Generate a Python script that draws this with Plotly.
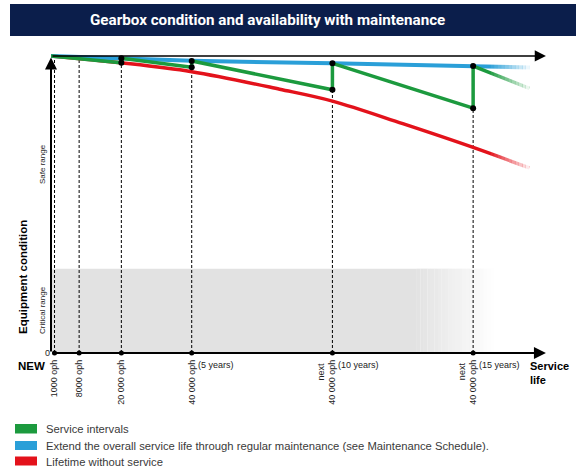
import numpy as np
import plotly.graph_objects as go

# ---------------- data (x in thousand operating hours, y = condition %) -------------
tick_x = [1, 8, 20, 40, 80, 120]
tick_text = ["1000 oph", "8000 oph", "20 000 oph", "40 000 oph", "40 000 oph", "40 000 oph"]
tick_prefix = ["", "", "", "", "next", "next"]
tick_years = ["", "", "", "(5 years)", "(10 years)", "(15 years)"]

blue_x = [0, 20, 40, 80, 120, 136]
blue_y = [100, 99.2, 98.4, 97.5, 96.6, 96.1]

red_x = [0, 20, 40, 65, 80, 100, 120, 136]
red_y = [100, 97.7, 94.7, 88.8, 84.8, 77.2, 69.2, 62.3]

service_x = [20, 40, 80, 120]
green_worn = [97.7, 96.2, 88.6, 82.4]       # condition just before service
green_restored = [99.2, 98.3, 97.5, 96.6]   # condition after service
green_start = 100
green_end_x, green_end_y = 136, 89.1

dash_top = [99.9, 99.1, 97.7, 96.2, 88.6, 82.4]   # dashed guide heights
critical_top = 28.4

legend_labels = ["Service intervals",
                 "Extend the overall service life through regular maintenance (see Maintenance Schedule).",
                 "Lifetime without service"]

GREEN, BLUE, RED = "#1c9a3e", "#2a9fd8", "#e3121b"
NAVY = "#0b1e4b"
FONT = "Liberation Sans, Arial, sans-serif"
TITLE_FONT = "Roboto, Liberation Sans, sans-serif"

# ---------------- layout geometry ----------------
W, H = 576, 470
L, R, T, B = 51, 29, 50, 117
PW, PH = W - L - R, H - T - B
XMAX, YMAX = 141, 102


def px(x):
    return (x - L) / PW


def py(y):
    return 1 - (y - T) / PH


fig = go.Figure()

# green sawtooth
gx, gy = [0], [green_start]
for sx, w_, r_ in zip(service_x, green_worn, green_restored):
    gx += [sx, sx]
    gy += [w_, r_]
gx.append(green_end_x)
gy.append(green_end_y)

# dashed guides
dx, dy = [], []
for x, t in zip(tick_x, dash_top):
    dx += [x, x, None]
    dy += [0, t, None]
fig.add_trace(go.Scatter(x=dx, y=dy, mode="lines",
                         line=dict(color="black", width=1, dash="3px,2px"),
                         hoverinfo="skip", showlegend=False))

fig.add_trace(go.Scatter(x=red_x, y=red_y, mode="lines", line_shape="spline",
                         line=dict(color=RED, width=3.5), showlegend=False))
fig.add_trace(go.Scatter(x=blue_x, y=blue_y, mode="lines",
                         line=dict(color=BLUE, width=4), showlegend=False))
fig.add_trace(go.Scatter(x=gx, y=gy, mode="lines",
                         line=dict(color=GREEN, width=3.5), showlegend=False))

# service dots
fig.add_trace(go.Scatter(x=service_x + service_x, y=green_worn + green_restored,
                         mode="markers", marker=dict(color="black", size=6),
                         cliponaxis=False, showlegend=False))
# tick dots on axis
fig.add_trace(go.Scatter(x=tick_x, y=[0] * len(tick_x), mode="markers",
                         marker=dict(color="black", size=5),
                         cliponaxis=False, showlegend=False))

shapes = []
# critical range (grey with fade to the right)
fade0, fade1 = 104, 126
shapes.append(dict(type="rect", xref="x", yref="y", x0=0.3, x1=fade0, y0=0, y1=critical_top,
                   fillcolor="#e2e2e2", line_width=0, layer="below"))
n = 22
for i in range(n):
    a = fade0 + (fade1 - fade0) * i / n
    b = fade0 + (fade1 - fade0) * (i + 1) / n
    shapes.append(dict(type="rect", xref="x", yref="y", x0=a, x1=b, y0=0, y1=critical_top,
                       fillcolor="#e2e2e2", opacity=1 - (i + 0.5) / n, line_width=0,
                       layer="below"))
# white fade over curve ends
c0, c1 = 125, 137
n = 12
for i in range(n):
    a = c0 + (c1 - c0) * i / n
    b = c0 + (c1 - c0) * (i + 1) / n
    shapes.append(dict(type="rect", xref="x", yref="y", x0=a, x1=b, y0=50, y1=98.9,
                       fillcolor="white", opacity=min(1, (i + 1) / n), line_width=0,
                       layer="above"))
# title bar
shapes.append(dict(type="rect", xref="paper", yref="paper", x0=px(10), x1=px(577),
                   y0=py(36), y1=py(4), fillcolor=NAVY, line_width=0))
# legend squares
leg_rows = [(424, 433.5, GREEN), (441, 450, BLUE), (456.5, 465.5, RED)]
for y0, y1, c in leg_rows:
    shapes.append(dict(type="rect", xref="paper", yref="paper", x0=px(15), x1=px(37),
                       y0=py(y1), y1=py(y0), fillcolor=c, line_width=0))

ann = []
# axes arrows
ann.append(dict(x=XMAX - 0.3, y=0, ax=0, ay=0, xref="x", yref="y", axref="x", ayref="y",
                showarrow=True, arrowhead=2, arrowsize=1.2, arrowwidth=2, arrowcolor="black", text=""))
ann.append(dict(x=XMAX - 0.3, y=100, ax=0, ay=100, xref="x", yref="y", axref="x", ayref="y",
                showarrow=True, arrowhead=2, arrowsize=1.6, arrowwidth=1.4, arrowcolor="black", text=""))
ann.append(dict(x=0, y=99.5, ax=0, ay=0, xref="x", yref="y", axref="x", ayref="y",
                showarrow=True, arrowhead=2, arrowsize=1.2, arrowwidth=2, arrowcolor="black", text=""))


def label(text, x, y, size, xanchor="center", yanchor="middle", angle=0, color="#222",
          family=FONT, align="center"):
    ann.append(dict(text=text, x=px(x), y=py(y), xref="paper", yref="paper", showarrow=False,
                    xanchor=xanchor, yanchor=yanchor, textangle=angle, align=align,
                    font=dict(family=family, size=size, color=color)))


label("<b>Gearbox condition and availability with maintenance</b>", 267, 20, 15.2,
      color="white", family=TITLE_FONT)
label("<b>Equipment condition</b>", 23, 277, 11.5, angle=-90, color="black")
label("Safe range", 42, 164, 8, angle=-90, color="#222")
label("Critical range", 42, 310, 8, angle=-90, color="#222")
label("<b>NEW</b>", 31, 366, 11.5, color="black")
label("<b>Service</b>", 528, 366, 11, xanchor="left", color="black")
label("<b>life</b>", 528, 380, 11, xanchor="left", color="black")

for x, pre, yr in zip(tick_x, tick_prefix, tick_years):
    if pre:
        ann.append(dict(text=pre, x=x, y=py(360), xref="x", yref="paper", xshift=-11,
                        showarrow=False, textangle=-90, xanchor="center", yanchor="top",
                        font=dict(family=FONT, size=9, color="#222")))
    if yr:
        ann.append(dict(text=yr, x=x, y=py(365), xref="x", yref="paper", xshift=4,
                        showarrow=False, xanchor="left", yanchor="middle",
                        font=dict(family=FONT, size=9, color="#222")))
# legend texts
for (y0, y1, c), lab in zip(leg_rows, legend_labels):
    label(lab, 44, (y0 + y1) / 2 + 0.5, 11.25, xanchor="left", color="#3a3a3a")

fig.update_layout(
    width=W, height=H, margin=dict(l=L, r=R, t=T, b=B, autoexpand=False),
    paper_bgcolor="white", plot_bgcolor="white",
    shapes=shapes, annotations=ann, showlegend=False,
    xaxis=dict(range=[0, XMAX], tickvals=tick_x, ticktext=tick_text, tickangle=-90,
               ticks="", showgrid=False, zeroline=False, showline=False, automargin=False,
               tickfont=dict(family=FONT, size=9, color="#222"), ticklabelstandoff=4),
    yaxis=dict(range=[0, YMAX], tickvals=[0], ticktext=["0"], ticks="", automargin=False,
               showgrid=False, zeroline=False, showline=False,
               tickfont=dict(family=FONT, size=9, color="#222")),
)

fig.write_html("out.html", config={"displayModeBar": False},
               post_script="document.body.style.margin='0';document.body.style.overflow='hidden';")
